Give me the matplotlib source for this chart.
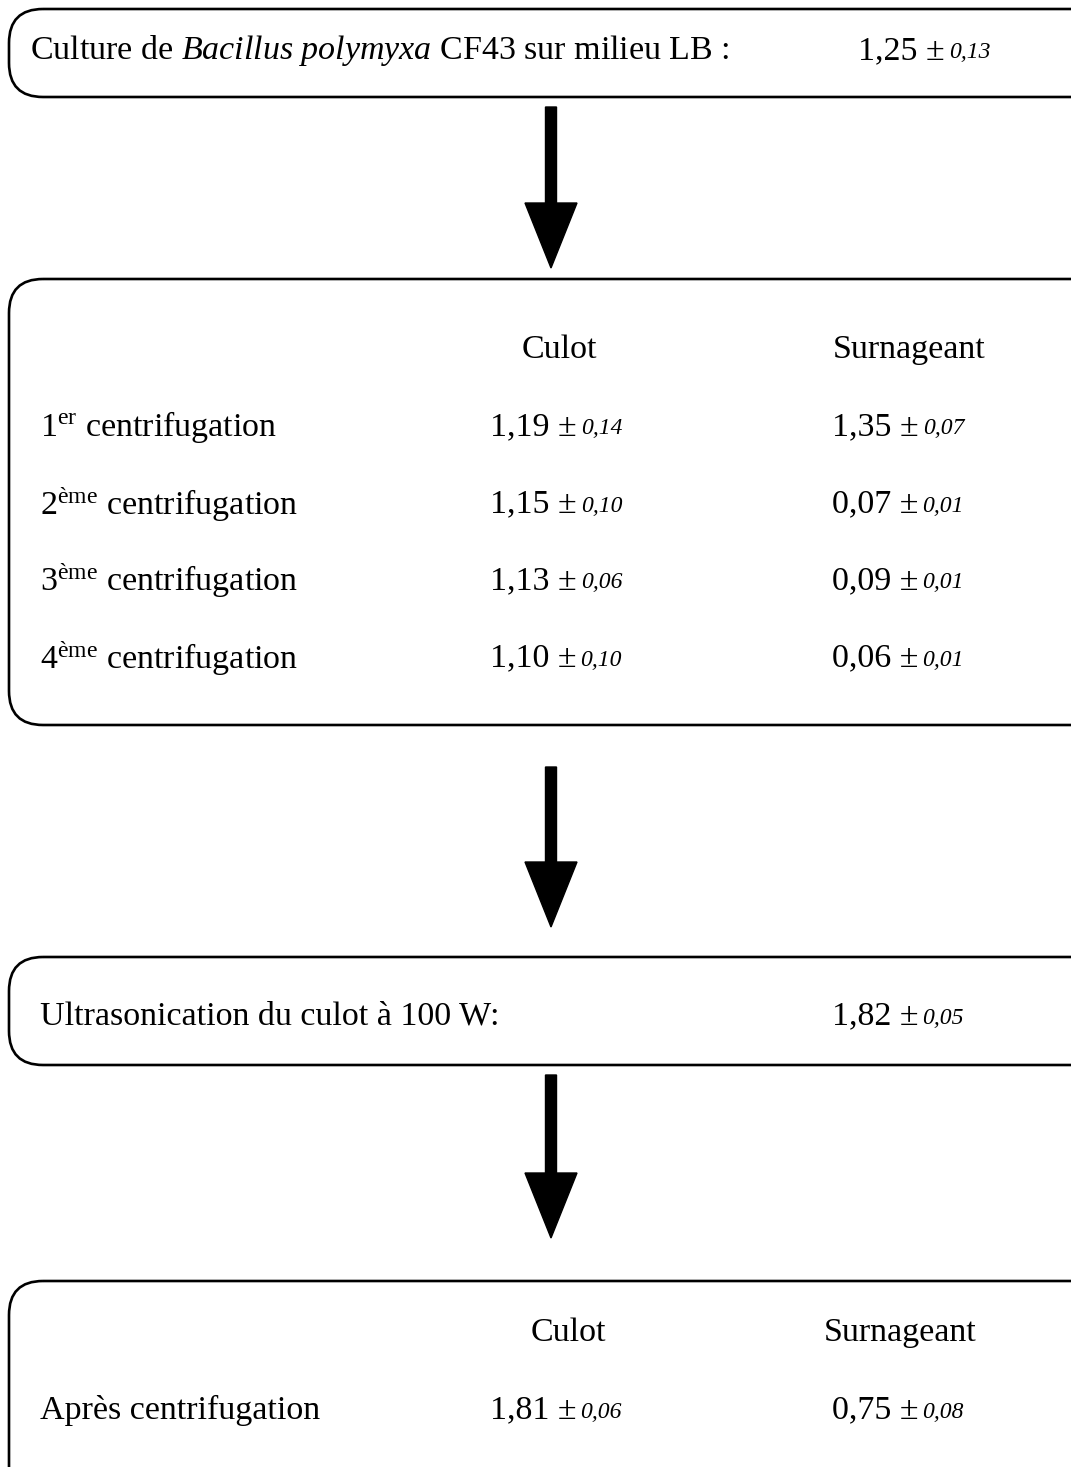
import matplotlib.pyplot as plt
from matplotlib.patches import FancyBboxPatch

plt.rcParams['font.family'] = ['Liberation Serif', 'DejaVu Serif']
plt.rcParams['mathtext.fontset'] = 'custom'
plt.rcParams['mathtext.rm'] = 'Liberation Serif'
plt.rcParams['mathtext.it'] = 'Liberation Serif:italic'

# Données
culture_val, culture_err = 1.25, 0.13
etapes = [r'1$^{\mathrm{er}}$ centrifugation', r'2$^{\mathrm{ème}}$ centrifugation',
          r'3$^{\mathrm{ème}}$ centrifugation', r'4$^{\mathrm{ème}}$ centrifugation']
culot_val = [1.19, 1.15, 1.13, 1.10]
culot_err = [0.14, 0.10, 0.06, 0.10]
surn_val = [1.35, 0.07, 0.09, 0.06]
surn_err = [0.07, 0.01, 0.01, 0.01]
ultra_val, ultra_err = 1.82, 0.05
apres_culot = (1.81, 0.06)
apres_surn = (0.75, 0.08)

W, H = 1071, 1467
FS = 24.5
FS_ERR = 17


def fr(x):
    # format français avec virgule
    return ('%.2f' % x).replace('.', ',')


fig = plt.figure(figsize=(W / 100, H / 100), dpi=100)
ax = fig.add_axes([0, 0, 1, 1])
ax.set_xlim(0, W)
ax.set_ylim(H, 0)
ax.axis('off')
renderer = fig.canvas.get_renderer()


def boite(y0, y1):
    p = FancyBboxPatch((9, y0), W + 40, y1 - y0,
                       boxstyle='round,pad=0,rounding_size=34',
                       fc='none', ec='black', lw=1.9)
    ax.add_patch(p)


def fleche(y0, y1):
    ax.arrow(551, y0, 0, y1 - y0, width=11, head_width=52, head_length=65,
             length_includes_head=True, fc='black', ec='black')


def texte(x, y, s, **kw):
    # décalage pour aligner la ligne de base comme dans l'original
    return ax.text(x, y + 3, s, fontsize=FS, va='center', **kw)


def valeur(x, y, val, err):
    t = texte(x, y, fr(val) + ' ±', ha='left')
    bb = t.get_window_extent(renderer)
    ax.text(bb.x1 + 4, y + 5, fr(err), fontsize=FS_ERR, style='italic',
            va='center', ha='left')


# Boîte 1
boite(9, 97)
texte(30, 48, r'Culture de $\mathit{Bacillus\ polymyxa}$ CF43 sur milieu LB :', ha='left')
valeur(858, 48, culture_val, culture_err)
fleche(107, 268)

# Boîte 2
boite(279, 725)
texte(559, 347, 'Culot', ha='center')
texte(909, 347, 'Surnageant', ha='center')
for i, lab in enumerate(etapes):
    y = 424 + 77 * i
    texte(40, y, lab, ha='left')
    valeur(490, y, culot_val[i], culot_err[i])
    valeur(832, y, surn_val[i], surn_err[i])
fleche(767, 927)

# Boîte 3
boite(957, 1065)
texte(40, 1013, 'Ultrasonication du culot à 100 W:', ha='left')
valeur(832, 1013, ultra_val, ultra_err)
fleche(1075, 1238)

# Boîte 4
boite(1281, H + 40)
texte(568, 1330, 'Culot', ha='center')
texte(900, 1330, 'Surnageant', ha='center')
texte(40, 1407, 'Après centrifugation', ha='left')
valeur(490, 1407, *apres_culot)
valeur(832, 1407, *apres_surn)

fig.savefig('out.png', dpi=100)
